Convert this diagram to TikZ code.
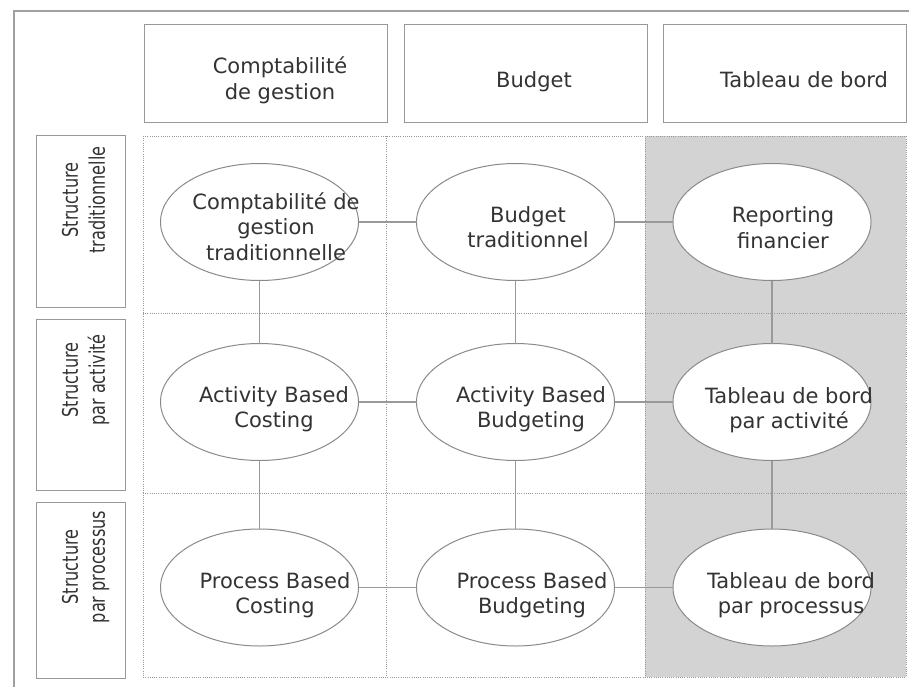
\documentclass[tikz,border=0pt]{standalone}
\usepackage{graphicx}
\usepackage{fontspec}
\setmainfont{DejaVu Sans}
\usetikzlibrary{shapes.geometric}
\definecolor{txt}{HTML}{333333}
\definecolor{frm}{HTML}{A0A0A0}
\definecolor{bx}{HTML}{999999}
\definecolor{ell}{HTML}{8A8A8A}
\definecolor{colshade}{HTML}{D3D3D3}
\newcommand{\mlines}[1]{\begin{tabular}[t]{@{}c@{}}#1\end{tabular}}
\newcommand{\rlines}[2]{\begin{tabular}{@{}c@{}}\scalebox{0.75}[1]{#1}\\\scalebox{0.75}[1]{#2}\end{tabular}}
\begin{document}
\begin{tikzpicture}[x=1pt,y=-1pt,
  every node/.style={font=\fontsize{21}{25.5}\selectfont, text=txt, inner sep=0pt, outer sep=0pt},
  hbox/.style={draw=bx, line width=1pt, fill=white, rectangle},
  ellnode/.style={ellipse, draw=ell, line width=1pt, fill=white, minimum width=198pt, minimum height=117pt},
  link/.style={draw=bx, line width=1.3pt},
  gridline/.style={draw=bx, line width=0.8pt, dash pattern=on 1pt off 1.2pt},
  lbl/.style={anchor=base},
  rlbl/.style={anchor=center, rotate=90, font=\fontsize{21.5}{27}\selectfont}]
\useasboundingbox (0,0) rectangle (909,687);
\fill[white] (0,0) rectangle (909,687);
% outer frame
\draw[frm, line width=1.5pt] (14,687) -- (14,11) -- (909,11);
% column headers
\node[hbox, minimum width=243pt, minimum height=98pt] (h1) at (265.5,74) {};
\node[hbox, minimum width=243pt, minimum height=98pt] (h2) at (525.5,74) {};
\node[hbox, minimum width=243pt, minimum height=98pt] (h3) at (784.5,74) {};
\node[lbl] (ht1) at (280,74) {\mlines{Comptabilité\\de gestion}};
\node[lbl] (ht2) at (534,88) {Budget};
\node[lbl] (ht3) at (804,88) {Tableau de bord};
% row headers
\node[hbox, minimum width=89pt, minimum height=171pt] (r1) at (80.5,221.5) {};
\node[hbox, minimum width=89pt, minimum height=171pt] (r2) at (80.5,404.5) {};
\node[hbox, minimum width=89pt, minimum height=176pt] (r3) at (80.5,590) {};
\node[rlbl] (rt1) at (86,200) {\rlines{Structure}{traditionnelle}};
\node[rlbl] (rt2) at (86,380) {\rlines{Structure}{par activité}};
\node[rlbl] (rt3) at (86,567) {\rlines{Structure}{par processus}};
% grid
\fill[colshade] (645,136) rectangle (906,677);
\draw[gridline] (143,136) rectangle (906,677);
\draw[gridline] (386,136) -- (386,677);
\draw[gridline] (645,136) -- (645,677);
\draw[gridline] (143,313) -- (906,313);
\draw[gridline] (143,493) -- (906,493);
% ellipses
\node[ellnode] (e11) at (259.5,222) {};
\node[ellnode] (e12) at (515.5,222) {};
\node[ellnode] (e13) at (772,222) {};
\node[ellnode] (e21) at (259.5,402) {};
\node[ellnode] (e22) at (515.5,402) {};
\node[ellnode] (e23) at (772,402) {};
\node[ellnode] (e31) at (259.5,587.5) {};
\node[ellnode] (e32) at (515.5,587.5) {};
\node[ellnode] (e33) at (772,587.5) {};
% connectors
\draw[link] (e11) -- (e12);
\draw[link] (e12) -- (e13);
\draw[link] (e21) -- (e22);
\draw[link] (e22) -- (e23);
\draw[link] (e31) -- (e32);
\draw[link] (e32) -- (e33);
\draw[link] (e11) -- (e21);
\draw[link] (e21) -- (e31);
\draw[link] (e12) -- (e22);
\draw[link] (e22) -- (e32);
\draw[link] (e13) -- (e23);
\draw[link] (e23) -- (e33);
% ellipse texts
\node[lbl] (t11) at (276,209) {\mlines{Comptabilité de\\gestion\\traditionnelle}};
\node[lbl] (t12) at (528,222) {\mlines{Budget\\traditionnel}};
\node[lbl] (t13) at (783,222.5) {\mlines{Reporting\\financier}};
\node[lbl] (t21) at (274,402) {\mlines{Activity Based\\Costing}};
\node[lbl] (t22) at (531,402) {\mlines{Activity Based\\Budgeting}};
\node[lbl] (t23) at (789,403) {\mlines{Tableau de bord\\par activité}};
\node[lbl] (t31) at (275,588) {\mlines{Process Based\\Costing}};
\node[lbl] (t32) at (532,588) {\mlines{Process Based\\Budgeting}};
\node[lbl] (t33) at (791,588) {\mlines{Tableau de bord\\par processus}};
\end{tikzpicture}
\end{document}
